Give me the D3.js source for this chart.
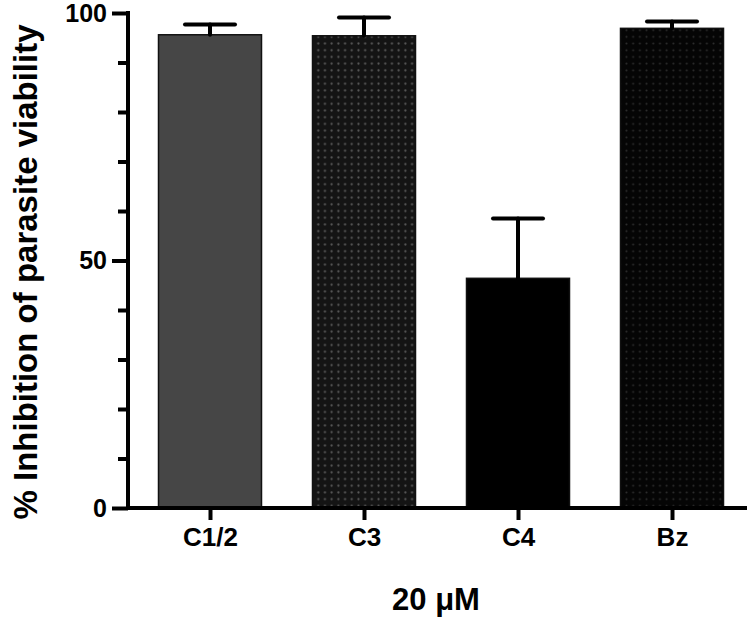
<!DOCTYPE html>
<html><head><meta charset="utf-8">
<script src="https://cdn.jsdelivr.net/npm/d3@7"></script>
<style>body{margin:0;background:#fff}svg{display:block}text{font-family:"Liberation Sans",Arial,sans-serif;font-weight:bold;fill:#000}</style>
</head><body>
<script>
const categories = ["C1/2", "C3", "C4", "Bz"];
const means = [95.6, 95.4, 46.4, 96.9];
const errors = [2.1, 3.7, 12.1, 1.4];
const yTicks = [0, 50, 100];
const yMinorTicks = [10, 20, 30, 40, 60, 70, 80, 90];
const yTitle = "% Inhibition of parasite viability";
const xTitle = "20 μM";

const W = 750, H = 621;
const svg = d3.select("body").append("svg").attr("width", W).attr("height", H);
const defs = svg.append("defs");
function dotPattern(id, bg, dot, r) {
  const p = defs.append("pattern").attr("id", id).attr("patternUnits", "userSpaceOnUse")
    .attr("width", 6.7).attr("height", 6.7);
  p.append("rect").attr("width", 6.7).attr("height", 6.7).attr("fill", bg);
  p.append("circle").attr("cx", 3.35).attr("cy", 3.35).attr("r", r).attr("fill", dot);
}
dotPattern("p3", "#141414", "#5a5a5a", 1.1);
dotPattern("pbz", "#050505", "#2e2e2e", 1.0);
const fills = ["#464646", "url(#p3)", "#000", "url(#pbz)"];

const x = d3.scalePoint().domain(categories).range([210, 672]);
const barW = 103;
const y = d3.scaleLinear().domain([0, 100]).range([508, 13]);
const axisX = 128;

// bars
svg.append("g").selectAll("rect").data(categories).join("rect")
  .attr("x", d => x(d) - barW / 2)
  .attr("y", (d, i) => y(means[i]))
  .attr("width", barW)
  .attr("height", (d, i) => y(0) - y(means[i]))
  .attr("fill", (d, i) => fills[i])
  .attr("stroke", "#111").attr("stroke-width", 1.5);

// error bars
const eg = svg.append("g").attr("stroke", "#000").attr("stroke-width", 4).attr("stroke-linecap", "round");
categories.forEach((c, i) => {
  eg.append("line").attr("x1", x(c)).attr("x2", x(c)).attr("y1", y(means[i])).attr("y2", y(means[i] + errors[i]));
  eg.append("line").attr("x1", x(c) - 25).attr("x2", x(c) + 25).attr("y1", y(means[i] + errors[i])).attr("y2", y(means[i] + errors[i]));
});

// y axis
const yAxis = d3.axisLeft(y).tickValues(yTicks).tickSize(16).tickPadding(5);
const gy = svg.append("g").attr("transform", `translate(${axisX},0)`).call(yAxis);
gy.select(".domain").remove();
gy.selectAll(".tick line").attr("stroke", "#000").attr("stroke-width", 4);
gy.selectAll(".tick text").attr("font-size", 25).attr("font-family", "Liberation Sans, Arial, sans-serif").attr("font-weight", "bold").attr("fill", "#000");
const gym = svg.append("g").attr("transform", `translate(${axisX},0)`)
  .call(d3.axisLeft(y).tickValues(yMinorTicks).tickSize(10).tickFormat(""));
gym.select(".domain").remove();
gym.selectAll(".tick line").attr("stroke", "#000").attr("stroke-width", 4);
svg.append("line").attr("x1", axisX).attr("x2", axisX).attr("y1", y(100) - 2).attr("y2", y(0) + 2)
  .attr("stroke", "#000").attr("stroke-width", 4);

// x axis
const gx = svg.append("g").attr("transform", `translate(0,${y(0)})`)
  .call(d3.axisBottom(x).tickSize(12).tickPadding(8));
gx.select(".domain").remove();
gx.selectAll(".tick line").attr("stroke", "#000").attr("stroke-width", 4);
gx.selectAll(".tick text").attr("font-size", 26).attr("font-family", "Liberation Sans, Arial, sans-serif").attr("font-weight", "bold").attr("fill", "#000");
svg.append("line").attr("x1", axisX - 2).attr("x2", 747).attr("y1", y(0)).attr("y2", y(0))
  .attr("stroke", "#000").attr("stroke-width", 4);

// titles
svg.append("text").attr("transform", "translate(37,272) rotate(-90)").attr("text-anchor", "middle")
  .attr("font-size", 33).text(yTitle);
svg.append("text").attr("x", 436).attr("y", 610).attr("text-anchor", "middle")
  .attr("font-size", 31).text(xTitle);
</script>
</body></html>
